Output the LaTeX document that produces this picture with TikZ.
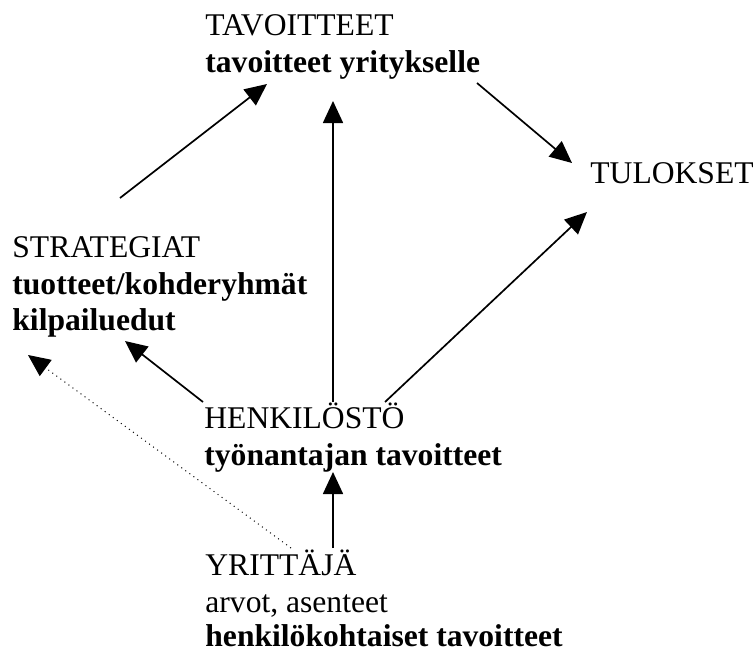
\documentclass[tikz,border=0pt]{standalone}
\usepackage{fontspec}
\setmainfont{Liberation Serif}
\usetikzlibrary{arrows.meta}
\tikzset{
  lbl/.style={anchor=base west, inner sep=0pt, font=\fontsize{15.8pt}{18.5pt}\selectfont},
  blbl/.style={lbl, font=\fontsize{15.8pt}{18.5pt}\selectfont\bfseries},
  arr/.style={line width=0.85pt, -{Triangle[length=11pt,width=10pt]}},
  darr/.style={line width=0.5pt, dotted, -{Triangle[length=11pt,width=10pt]}}
}
\begin{document}
\begin{tikzpicture}[x=0.5pt,y=-0.5pt]
\useasboundingbox (0,0) rectangle (753,653);
% texts
\node[lbl]  (tav1) at (205,35)  {TAVOITTEET};
\node[blbl] (tav2) at (205,72)  {tavoitteet yritykselle};
\node[lbl]  (tul)  at (590,183) {TULOKSET};
\node[lbl]  (str1) at (12,257)  {STRATEGIAT};
\node[blbl] (str2) at (12,294)  {tuotteet/kohderyhmät};
\node[blbl] (str3) at (12,330)  {kilpailuedut};
\node[lbl]  (hen1) at (204,428) {HENKILÖSTÖ};
\node[blbl] (hen2) at (204,465) {työnantajan tavoitteet};
\node[lbl]  (yri1) at (205,575) {YRITTÄJÄ};
\node[lbl]  (yri2) at (205,612) {arvot, asenteet};
\node[blbl] (yri3) at (205,646) {henkilökohtaiset tavoitteet};
% connector end points
\coordinate (sTop) at (120,198);
\coordinate (tBotL) at (267,84);
\coordinate (tBotM) at (333,101);
\coordinate (tRight) at (477,83);
\coordinate (rIn1) at (572,163);
\coordinate (rIn2) at (587,212);
\coordinate (hTopM) at (333,402);
\coordinate (hTopR) at (385,402);
\coordinate (hTopL) at (203,402);
\coordinate (sBot) at (125,341);
\coordinate (sBotL) at (28,355);
\coordinate (yTopL) at (291,548);
\coordinate (yTopM) at (333,548);
\coordinate (hBotM) at (333,472);
% connectors
\draw[arr] (sTop) -- (tBotL);
\draw[arr] (hTopM) -- (tBotM);
\draw[arr] (tRight) -- (rIn1);
\draw[arr] (hTopR) -- (rIn2);
\draw[arr] (hTopL) -- (sBot);
\draw[darr] (yTopL) -- (sBotL);
\draw[arr] (yTopM) -- (hBotM);
\end{tikzpicture}
\end{document}
